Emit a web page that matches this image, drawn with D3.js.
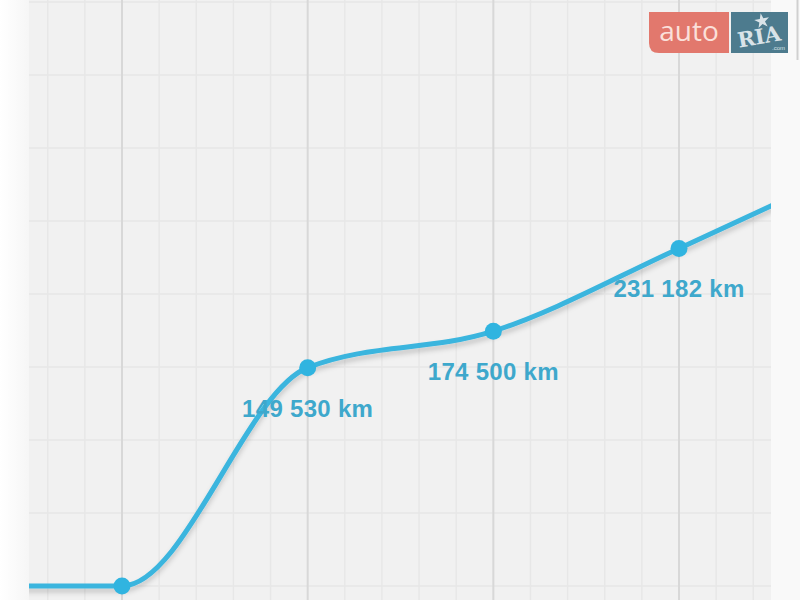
<!DOCTYPE html>
<html>
<head>
<meta charset="utf-8">
<script src="https://cdn.jsdelivr.net/npm/d3@7"></script>
<style>
  html, body { margin: 0; padding: 0; background: #fafafa; }
  svg { display: block; }
</style>
</head>
<body>
<div id="chart"></div>
<script>
// mileage history; the first and last steps sit outside the visible area
const steps = [-1, 0, 1, 2, 3, 4];
const mileage = [0, 0, 149530, 174500, 231182, 290000];
const shown = [0, 1, 2, 3];          // steps that get a marker
const labelled = [1, 2, 3];          // steps that get a km label
const yTicks = d3.range(0, 450000, 50000);

const width = 800, height = 600;
const plot = {left: 29, right: 771};

const x = d3.scaleLinear().domain([0, 3]).range([122, 679]);
const y = d3.scaleLinear().domain([0, 400000]).range([586, 2]);

const fmt = d3.formatLocale({decimal: '.', thousands: ' ', grouping: [3], currency: ['', '']}).format(',d');

const svg = d3.select('#chart').append('svg')
  .attr('width', width)
  .attr('height', height);

const defs = svg.append('defs');
const lg = defs.append('linearGradient').attr('id', 'leftFade');
lg.append('stop').attr('offset', '0%').attr('stop-color', '#ffffff');
lg.append('stop').attr('offset', '100%').attr('stop-color', '#f6f6f6');

defs.append('clipPath').attr('id', 'plotClip')
  .append('rect')
  .attr('x', plot.left).attr('y', 0)
  .attr('width', plot.right - plot.left).attr('height', height);

const shadow = defs.append('filter').attr('id', 'shadow')
  .attr('x', '-10%').attr('y', '-10%').attr('width', '120%').attr('height', '140%');
shadow.append('feDropShadow')
  .attr('dx', 0).attr('dy', 4).attr('stdDeviation', 2.5)
  .attr('flood-color', '#000').attr('flood-opacity', 0.18);

// page margins
svg.append('rect').attr('x', 0).attr('y', 0).attr('width', plot.left).attr('height', height)
  .attr('fill', 'url(#leftFade)');
svg.append('rect').attr('x', plot.right).attr('y', 0).attr('width', width - plot.right).attr('height', height)
  .attr('fill', '#f9f9f9');

const g = svg.append('g').attr('clip-path', 'url(#plotClip)');

g.append('rect')
  .attr('x', plot.left).attr('y', 0)
  .attr('width', plot.right - plot.left).attr('height', height)
  .attr('fill', '#f1f1f1');

// horizontal grid
g.append('g')
  .selectAll('line')
  .data(yTicks)
  .join('line')
  .attr('x1', plot.left).attr('x2', plot.right)
  .attr('y1', d => y(d)).attr('y2', d => y(d))
  .attr('stroke', '#e6e6e6')
  .attr('stroke-width', 1.5);

// vertical grid, five minor lines per step
const vTicks = d3.range(-5, 21).map(i => i / 5);
g.append('g')
  .selectAll('line')
  .data(vTicks)
  .join('line')
  .attr('x1', d => x(d)).attr('x2', d => x(d))
  .attr('y1', 0).attr('y2', height)
  .attr('stroke', d => Number.isInteger(d) ? '#d8d8d8' : '#e7e7e7')
  .attr('stroke-width', d => Number.isInteger(d) ? 2 : 1.5);

const pts = steps.map((s, i) => ({step: s, km: mileage[i]}));

const line = d3.line()
  .x(d => x(d.step))
  .y(d => y(d.km))
  .curve(d3.curveMonotoneX);

g.append('path')
  .datum(pts)
  .attr('d', line)
  .attr('fill', 'none')
  .attr('stroke', '#3ab5de')
  .attr('stroke-width', 5)
  .attr('stroke-linecap', 'round')
  .attr('filter', 'url(#shadow)');

g.append('g')
  .selectAll('circle')
  .data(pts.filter(d => shown.includes(d.step)))
  .join('circle')
  .attr('cx', d => x(d.step))
  .attr('cy', d => y(d.km))
  .attr('r', 8.5)
  .attr('fill', '#30b4e0');

g.append('g')
  .selectAll('text')
  .data(pts.filter(d => labelled.includes(d.step)))
  .join('text')
  .attr('x', d => x(d.step))
  .attr('y', d => y(d.km) + 49)
  .attr('text-anchor', 'middle')
  .attr('font-family', 'Liberation Sans, Arial, sans-serif')
  .attr('font-weight', 'bold')
  .attr('font-size', 24)
  .attr('letter-spacing', 0.3)
  .attr('fill', '#3ea8cc')
  .text(d => fmt(d.km) + ' km');

// logo
const logo = svg.append('g').attr('transform', 'translate(649,12)');
logo.append('path')
  .attr('d', 'M0,0 H80 V41 H10 Q0,41 0,31 Z')
  .attr('fill', '#e2786d');
logo.append('text')
  .attr('x', 40).attr('y', 29)
  .attr('text-anchor', 'middle')
  .attr('font-family', 'Open Sans, Arial, sans-serif')
  .attr('font-size', 28)
  .attr('fill', '#fbe0da')
  .text('auto');
logo.append('rect')
  .attr('x', 82).attr('y', 0).attr('width', 57).attr('height', 41)
  .attr('fill', '#4d7b8e');
logo.append('text')
  .attr('x', 110).attr('y', 32)
  .attr('text-anchor', 'middle')
  .attr('font-family', 'DejaVu Serif, serif')
  .attr('font-weight', 'bold')
  .attr('font-size', 21)
  .attr('transform', 'rotate(-10,110,24)')
  .attr('fill', '#d9e3e8')
  .text('RIA');
logo.append('path')
  .attr('d', d3.symbol().type(d3.symbolStar).size(70)())
  .attr('transform', 'translate(113,9) rotate(-10)')
  .attr('fill', '#d9e3e8');
logo.append('text')
  .attr('x', 136).attr('y', 38)
  .attr('text-anchor', 'end')
  .attr('font-family', 'Liberation Sans, Arial, sans-serif')
  .attr('font-size', 6)
  .attr('fill', '#d9e3e8')
  .text('.com');

// scrollbar hint at the right edge
svg.append('line')
  .attr('x1', 797.5).attr('x2', 797.5).attr('y1', 0).attr('y2', 60)
  .attr('stroke', '#d0d0d0').attr('stroke-width', 2);
</script>
</body>
</html>
